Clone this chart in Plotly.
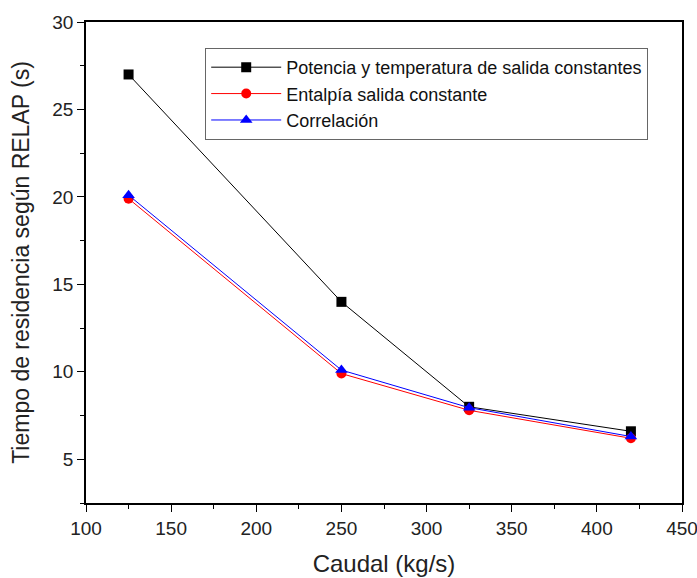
import plotly.graph_objects as go

caudal = [125, 250, 325, 420]
potencia = [27.0, 14.0, 8.0, 6.6]
entalpia = [19.9, 9.9, 7.8, 6.2]
correlacion = [20.1, 10.1, 7.95, 6.3]

names = ["Potencia y temperatura de salida constantes", "Entalpía salida constante", "Correlación"]
x_ticks = [100, 150, 200, 250, 300, 350, 400, 450]
y_ticks = [5, 10, 15, 20, 25, 30]

FONT = "Liberation Sans, Arial"

fig = go.Figure()
fig.add_trace(go.Scatter(x=caudal, y=potencia, name=names[0], mode="lines+markers",
                         line=dict(color="black", width=1),
                         marker=dict(symbol="square", size=10, color="black")))
fig.add_trace(go.Scatter(x=caudal, y=entalpia, name=names[1], mode="lines+markers",
                         line=dict(color="red", width=1),
                         marker=dict(symbol="circle", size=10, color="red")))
fig.add_trace(go.Scatter(x=caudal, y=correlacion, name=names[2], mode="lines+markers",
                         line=dict(color="blue", width=1),
                         marker=dict(symbol="triangle-up", size=11, color="blue")))

axis_common = dict(showgrid=False, zeroline=False, showline=True, linecolor="black", linewidth=1.5,
                   mirror=True, ticks="outside", ticklen=7, tickwidth=1.2, tickcolor="black",
                   automargin=False, ticklabeloverflow="allow",
                   tickfont=dict(family=FONT, size=19, color="#222"))

fig.update_xaxes(range=[100, 450], tickvals=x_ticks,
                 minor=dict(ticks="outside", ticklen=4, tickcolor="black", dtick=25, tick0=100),
                 title=dict(text="Caudal (kg/s)", font=dict(family=FONT, size=24, color="#222"), standoff=18),
                 **axis_common)
fig.update_yaxes(range=[2.5, 30], tickvals=y_ticks,
                 minor=dict(ticks="outside", ticklen=4, tickcolor="black", dtick=2.5, tick0=0),
                 title=dict(text="Tiempo de residencia según RELAP (s)", font=dict(family=FONT, size=23, color="#222"), standoff=16),
                 **axis_common)

fig.update_layout(
    width=697, height=578,
    margin=dict(l=86, r=15, t=22, b=75),
    plot_bgcolor="white", paper_bgcolor="white",
    font=dict(family=FONT, color="#222"),
    legend=dict(x=0.2, y=0.946, xanchor="left", yanchor="top",
                bordercolor="#666", borderwidth=1, bgcolor="white",
                font=dict(family=FONT, size=18, color="#111"),
                tracegroupgap=0, itemwidth=70),
    showlegend=True,
)

fig.write_html("out.html", config={"displayModeBar": False},
               post_script="document.body.style.margin='0';document.body.style.overflow='hidden';")
